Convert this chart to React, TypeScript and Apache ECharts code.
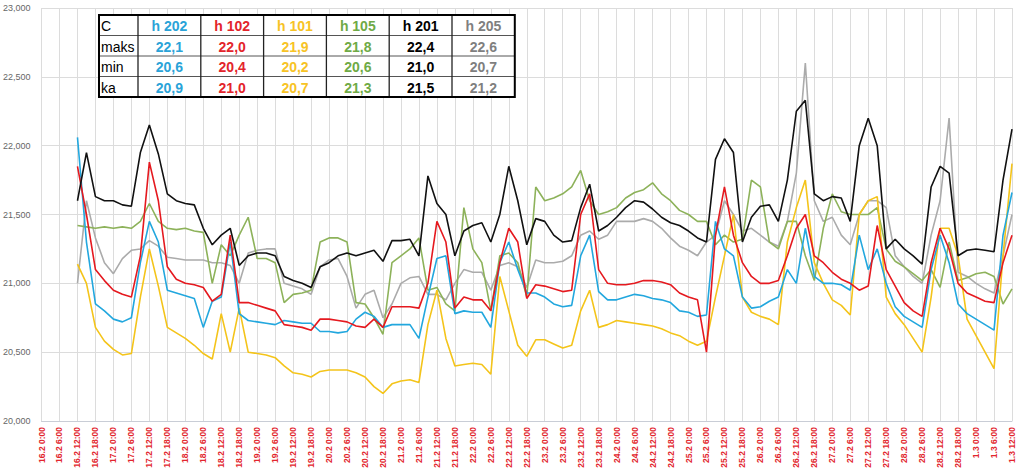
import React, { useEffect, useRef } from "react";
import * as echarts from "echarts";

// ---- tick labels ----
const dayLabels = ["16.2", "17.2", "18.2", "19.2", "20.2", "21.2", "22.2", "23.2", "24.2", "25.2", "26.2", "27.2", "28.2", "1.3"];

// ---- time sampling of the series (hours from 16.2 0:00) ----
const START_HOUR = 12;
const STEP_HOURS = 3;

// ---- series values (°C) ----
const h202 = [
  22.06, 21.3, 20.85, 20.8, 20.74, 20.72, 20.75, 21.15, 21.45, 21.3, 20.95, 20.93, 20.91, 20.89, 20.68,
  20.87, 20.9, 21.3, 20.78, 20.73, 20.72, 20.71, 20.7, 20.73, 20.72, 20.71, 20.71, 20.65, 20.65, 20.64, 20.65, 20.74,
  20.79, 20.76, 20.68, 20.7, 20.7, 20.7, 20.6, 20.9, 21.18, 21.2, 20.78, 20.8, 20.79, 20.79, 20.68, 21.15, 21.3,
  21.1, 20.93, 20.93, 20.9, 20.85, 20.83, 20.84, 21.2, 21.35, 20.94, 20.88, 20.88, 20.9, 20.92, 20.91, 20.89, 20.88, 20.86,
  20.8, 20.79, 20.76, 20.77, 21.45, 21.25, 21.2, 20.9, 20.82, 20.83, 20.87, 20.9, 21.1, 21.0, 21.4, 21.05, 21.0, 21.0,
  20.99, 20.95, 21.35, 21.1, 21.25, 21.0, 20.83, 20.76, 20.72, 20.68, 21.1, 21.35, 21.15, 20.85, 20.78, 20.74, 20.7, 20.66, 21.35, 21.66,
];
const h102 = [
  21.85, 21.5, 21.1, 21.02, 20.95, 20.92, 20.9, 21.2, 21.88, 21.6, 21.12, 21.03, 21.0, 20.99, 20.97,
  20.87, 20.92, 21.35, 20.86, 20.86, 20.84, 20.82, 20.8, 20.7, 20.69, 20.68, 20.66, 20.74, 20.74, 20.73, 20.72, 20.69,
  20.68, 20.74, 20.68, 20.83, 20.83, 20.83, 20.82, 21.0, 21.45, 21.3, 20.82, 20.9, 20.88, 20.88, 20.8, 21.15, 21.4,
  21.3, 20.89, 20.99, 20.98, 20.96, 20.94, 20.95, 21.5, 21.65, 21.1, 21.0, 20.99, 20.99, 21.0, 21.02, 21.02, 21.01, 20.99,
  20.93, 20.9, 20.88, 20.5, 21.35, 21.7, 21.35, 21.15, 21.05, 21.0, 21.0, 21.02, 21.2, 21.4, 21.5, 21.2, 21.15, 21.08,
  21.03, 21.0, 20.95, 20.98, 21.42, 21.1, 20.98, 20.86, 20.8, 20.76, 21.15, 21.4, 21.25, 21.0, 20.93, 20.9, 20.87, 20.86, 21.15, 21.35,
];
const h101 = [
  21.14, 21.0, 20.68, 20.58, 20.52, 20.48, 20.49, 20.9, 21.25, 20.98, 20.68, 20.64, 20.6, 20.55, 20.49,
  20.45, 20.78, 20.5, 20.82, 20.5, 20.49, 20.48, 20.46, 20.4, 20.35, 20.34, 20.32, 20.36, 20.37, 20.37, 20.37, 20.35,
  20.32, 20.25, 20.2, 20.27, 20.29, 20.3, 20.28, 20.7, 20.95, 20.6, 20.4, 20.41, 20.42, 20.41, 20.34, 21.05, 20.8,
  20.55, 20.47, 20.59, 20.59, 20.56, 20.53, 20.55, 20.8, 20.95, 20.68, 20.7, 20.73, 20.72, 20.71, 20.7, 20.69, 20.67, 20.64,
  20.62, 20.58, 20.55, 20.58, 20.9, 21.2, 21.5, 20.9, 20.79, 20.76, 20.74, 20.7, 21.3, 21.55, 21.75, 21.15, 21.0, 20.88,
  20.84, 20.77, 21.5, 21.6, 21.63, 20.9, 20.78, 20.7, 20.6, 20.5, 20.9, 21.4, 21.4, 21.2, 20.74, 20.62, 20.5, 20.38, 21.2, 21.87,
];
const h105 = [
  21.42, 21.41, 21.4, 21.41, 21.4, 21.41, 21.4, 21.45, 21.58, 21.45, 21.4, 21.39, 21.4, 21.38, 21.37,
  21.0, 21.28, 21.2, 21.35, 21.48, 21.18, 21.18, 21.15, 20.86, 20.92, 20.93, 20.95, 21.3, 21.33, 21.33, 21.3, 20.86,
  20.85, 20.75, 20.63, 21.15, 21.2, 21.25, 21.33, 20.95, 20.97, 20.85, 20.8, 21.55, 21.25, 21.15, 20.8, 21.2, 21.22,
  21.15, 20.9, 21.7, 21.6, 21.62, 21.65, 21.7, 21.82, 21.6, 21.5, 21.52, 21.55, 21.62, 21.66, 21.68, 21.73, 21.65, 21.6,
  21.53, 21.5, 21.45, 21.45, 21.28, 21.35, 21.3, 21.32, 21.75, 21.7, 21.3, 21.25, 21.45, 21.45, 21.2, 21.02, 21.4, 21.65,
  21.52, 21.5, 21.5, 21.5, 21.55, 21.25, 21.16, 21.12, 21.07, 21.02, 21.1, 20.97, 21.3, 21.02, 21.04, 21.07, 21.08, 21.05, 20.85, 20.96,
];
const h201 = [
  21.6, 21.95, 21.63, 21.6, 21.6, 21.57, 21.56, 21.95, 22.15, 21.94, 21.65, 21.6, 21.58, 21.57, 21.4,
  21.28, 21.35, 21.4, 21.13, 21.2, 21.22, 21.22, 21.2, 21.05, 21.02, 21.0, 20.97, 21.12, 21.15, 21.2, 21.22, 21.2,
  21.22, 21.24, 21.16, 21.31, 21.31, 21.32, 21.2, 21.78, 21.58, 21.5, 21.2, 21.38, 21.42, 21.44, 21.3, 21.5, 21.85,
  21.6, 21.28, 21.47, 21.45, 21.35, 21.3, 21.31, 21.55, 21.72, 21.38, 21.42, 21.48, 21.55, 21.6, 21.59, 21.54, 21.48, 21.44,
  21.42, 21.38, 21.33, 21.3, 21.9, 22.05, 21.95, 21.3, 21.48, 21.56, 21.57, 21.45, 21.75, 22.25, 22.33, 21.65, 21.6, 21.63,
  21.62, 21.45, 22.0, 22.2, 22.0, 21.25, 21.32, 21.25, 21.2, 21.14, 21.7, 21.85, 21.8, 21.2, 21.24, 21.25, 21.24, 21.23, 21.75, 22.12,
];
const h205 = [
  21.0, 21.6, 21.33, 21.15, 21.07, 21.18, 21.24, 21.25, 21.31, 21.27, 21.19, 21.18, 21.17, 21.17, 21.17,
  21.15, 21.15, 21.13, 21.0, 21.22, 21.24, 21.25, 21.25, 21.0, 20.98, 20.96, 20.92, 21.12, 21.17, 21.18, 21.05, 20.82,
  20.92, 20.95, 20.75, 20.85, 21.0, 21.04, 21.05, 20.92, 20.92, 20.88, 21.0, 21.1, 21.08, 21.08, 20.95, 21.13, 21.15,
  21.12, 20.97, 21.17, 21.15, 21.15, 21.16, 21.2, 21.35, 21.38, 21.32, 21.35, 21.45, 21.45, 21.45, 21.47, 21.45, 21.4, 21.33,
  21.27, 21.24, 21.2, 21.3, 21.35, 21.6, 21.5, 21.38, 21.4, 21.35, 21.3, 21.27, 21.45, 21.8, 22.6, 21.6, 21.45, 21.48,
  21.35, 21.28, 21.5, 21.6, 21.6, 21.55, 21.2, 21.12, 21.05, 21.0, 21.35, 21.6, 22.2, 21.08, 21.05, 21.0, 20.96, 20.93, 21.2, 21.5,
];

// ---- summary table ----
const tableNames = ["h 202", "h 102", "h 101", "h 105", "h 201", "h 205"];
const tableMaks = ["22,1", "22,0", "21,9", "21,8", "22,4", "22,6"];
const tableMin = ["20,6", "20,4", "20,2", "20,6", "21,0", "20,7"];
const tableKa = ["20,9", "21,0", "20,7", "21,3", "21,5", "21,2"];
const rowLabels = ["C", "maks", "min", "ka"];

const textColors = ["#2AA3D8", "#E3242B", "#F7C325", "#6FAA46", "#000000", "#7F7F7F"];
const lineColors = ["#22A7DE", "#E5191F", "#F4C41A", "#8DB25A", "#111111", "#ABABAB"];
const seriesValues = [h202, h102, h101, h105, h201, h205];

const toPairs = (vals: number[]) => vals.map((v, i) => [START_HOUR + i * STEP_HOURS, v]);

function buildTable() {
  const x0 = 99;
  const y0 = 15;
  const firstW = 39;
  const colW = 62.8;
  const rowH = 20.5;
  const totalW = firstW + colW * 6;
  const totalH = rowH * 4;
  const Z = 100;
  const els: any[] = [];
  els.push({ type: "rect", z: Z, shape: { x: x0, y: y0, width: totalW, height: totalH }, style: { fill: "#fff", stroke: "none" } });
  for (let r = 1; r < 4; r++) {
    els.push({ type: "line", z: Z + 1, shape: { x1: x0, y1: y0 + r * rowH, x2: x0 + totalW, y2: y0 + r * rowH }, style: { stroke: "#555", lineWidth: 1 } });
  }
  for (let c = 0; c < 6; c++) {
    const x = x0 + firstW + c * colW;
    els.push({ type: "line", z: Z + 1, shape: { x1: x, y1: y0, x2: x, y2: y0 + totalH }, style: { stroke: "#222", lineWidth: 1.3 } });
  }
  els.push({ type: "rect", z: Z + 2, shape: { x: x0, y: y0, width: totalW, height: totalH }, style: { fill: "none", stroke: "#000", lineWidth: 2 } });
  rowLabels.forEach((lab, r) => {
    els.push({
      type: "text",
      z: Z + 3,
      style: { x: x0 + 2, y: y0 + r * rowH + rowH / 2 + 1, text: lab, fill: "#000", font: "14px 'Liberation Sans', Arial, sans-serif", verticalAlign: "middle", align: "left" },
    });
  });
  const rows = [tableNames, tableMaks, tableMin, tableKa];
  rows.forEach((row, r) => {
    row.forEach((t, c) => {
      els.push({
        type: "text",
        z: Z + 3,
        style: {
          x: x0 + firstW + c * colW + colW / 2,
          y: y0 + r * rowH + rowH / 2 + 1,
          text: t,
          fill: textColors[c],
          font: "bold 14px 'Liberation Sans', Arial, sans-serif",
          align: "center",
          verticalAlign: "middle",
        },
      });
    });
  });
  return els;
}

export default function App() {
  const ref = useRef<HTMLDivElement>(null);
  useEffect(() => {
    if (!ref.current) return;
    const chart = echarts.init(ref.current, null, { renderer: "svg" });
    const order = [5, 3, 2, 0, 1, 4];
    chart.setOption({
      animation: false,
      backgroundColor: "#fff",
      grid: { left: 40, right: 11, top: 8, bottom: 54, containLabel: false },
      xAxis: {
        type: "value",
        min: 0,
        max: 324,
        interval: 6,
        axisLine: { show: true, lineStyle: { color: "#C9CDD6", width: 1 } },
        axisTick: { show: false },
        splitLine: { show: true, lineStyle: { color: "#DCDCDC", width: 1 } },
        axisLabel: {
          rotate: 90,
          margin: 6,
          fontSize: 8.5,
          fontWeight: "bold",
          color: "#E2262E",
          fontFamily: "'Liberation Sans', Arial, sans-serif",
          showMinLabel: true,
          showMaxLabel: true,
          formatter: (h: number) => `${dayLabels[Math.floor(h / 24)]} ${h % 24}:00`,
        },
      },
      yAxis: {
        type: "value",
        min: 20,
        max: 23,
        interval: 0.5,
        axisLine: { show: false },
        axisTick: { show: false },
        splitLine: { show: true, lineStyle: { color: "#DCDCDC", width: 1 } },
        axisLabel: {
          margin: 11,
          fontSize: 9,
          color: "#666",
          fontFamily: "'Liberation Sans', Arial, sans-serif",
          formatter: (v: number) => v.toFixed(3).replace(".", ","),
        },
      },
      series: order.map((k) => ({
        name: tableNames[k],
        type: "line",
        data: toPairs(seriesValues[k]),
        showSymbol: false,
        symbol: "none",
        lineStyle: { color: lineColors[k], width: 1.6 },
        itemStyle: { color: lineColors[k] },
      })),
      graphic: buildTable(),
    });
    return () => chart.dispose();
  }, []);
  return <div ref={ref} style={{ position: "fixed", left: 0, top: 0, width: 1023, height: 475 }} />;
}
